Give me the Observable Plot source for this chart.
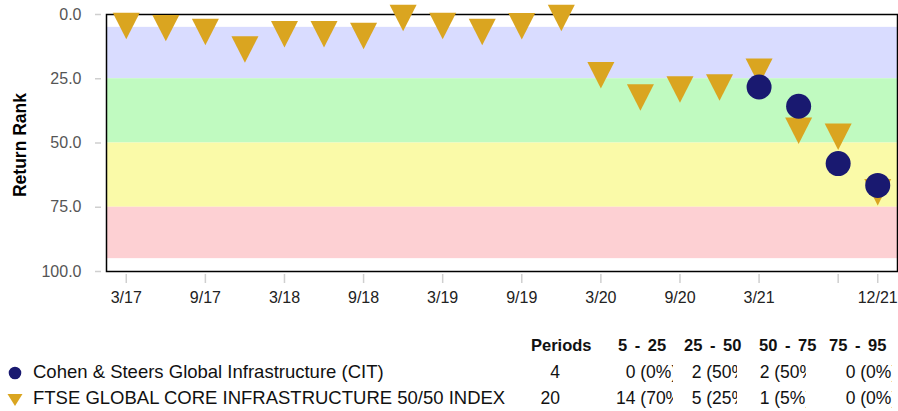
<!DOCTYPE html>
<html><head><meta charset="utf-8">
<script src="https://cdn.jsdelivr.net/npm/d3@7"></script>
<script src="https://cdn.jsdelivr.net/npm/@observablehq/plot@0.6"></script>
<style>
body{margin:0;background:#fff;font-family:"Liberation Sans",Arial,Helvetica,sans-serif;}
#wrap{position:relative;width:898px;height:411px;overflow:hidden;}
#chart{position:absolute;left:0;top:0;}
.ylab{position:absolute;left:20px;top:145px;transform:translate(-50%,-50%) rotate(-90deg);font-weight:bold;font-size:17.5px;white-space:nowrap;color:#000;}
.t{position:absolute;white-space:nowrap;line-height:1;color:#111;}
.hd{font-weight:bold;font-size:16.5px;}
.hd.num{word-spacing:3px;}
.v{font-size:17.5px;}
.lg{font-size:18.5px;}
.clip{position:absolute;overflow:hidden;height:22px;}
.clip span{position:absolute;top:0;white-space:nowrap;line-height:1;font-size:17.5px;color:#111;}
</style></head>
<body><div id="wrap"><div id="chart"></div></div>
<script>
// ---- data ----
const quarters = ["3/17","6/17","9/17","12/17","3/18","6/18","9/18","12/18","3/19","6/19","9/19","12/19","3/20","6/20","9/20","12/20","3/21","6/21","9/21","12/21"];
const indexRank = [4.5,5.3,6.8,13.6,7.7,7.7,8.4,1.4,4.5,6.8,4.6,1.4,23.6,32.3,29.2,28.4,22.3,45.2,47.6,69.2];
const citQuarters = ["3/21","6/21","9/21","12/21"];
const citRank = [28.2,35.7,58.0,66.5];
const bandLow = [5,25,50,75];
const bandHigh = [25,50,75,95];
const bandColors = ["#d9dcff","#c0fac0","#fafaa8","#fdd0d3"];
const yTicks = [0,25,50,75,100];
const xTickQuarters = ["3/17","9/17","3/18","9/18","3/19","9/19","3/20","9/20","3/21","9/21","12/21"];
const xTickLabels = ["3/17","9/17","3/18","9/18","3/19","9/19","3/20","9/20","3/21","","12/21"];
const seriesNames = ["Cohen & Steers Global Infrastructure (CIT)","FTSE GLOBAL CORE INFRASTRUCTURE 50/50 INDEX"];
const seriesColors = ["#191970","#DAA520"];
const tableHeaders = ["Periods","5 - 25","25 - 50","50 - 75","75 - 95"];
const periods = [4, 20];
const tableCounts = [[0,2,2,0],[14,5,1,0]];
const tablePcts = [[0,50,50,0],[70,25,5,0]];

// ---- chart ----
const bands = bandLow.map((lo,i)=>({lo, hi: bandHigh[i], color: bandColors[i]}));
const idxRows = quarters.map((q,i)=>({q, rank: indexRank[i]}));
const citRows = citQuarters.map((q,i)=>({q, rank: citRank[i]}));
const triangleDown = {draw(ctx, size){const r=Math.sqrt(size/Math.PI);const h=r*0.98;ctx.moveTo(-r,-h);ctx.lineTo(r,-h);ctx.lineTo(0,h);ctx.closePath();}};

const chart = Plot.plot({
  width: 898, height: 320,
  marginLeft: 106, marginRight: 1, marginTop: 14, marginBottom: 49,
  style: {fontFamily: '"Liberation Sans", Arial, sans-serif', background: "transparent"},
  x: {type: "point", domain: quarters, padding: 0.5, round: false, label: null},
  y: {domain: [100, 0], label: null},
  marks: [
    Plot.rect(bands, {y1: "lo", y2: "hi", fill: d => d.color}),
    Plot.axisY({ticks: yTicks, tickFormat: () => "", tickSize: 6, dx: -5, color: "#cfcfcf", strokeWidth: 1.5, label: null}),
    Plot.axisY({ticks: yTicks, tickFormat: d3.format(".1f"), tickSize: 0, tickPadding: 25, color: "#555", fontSize: 16, label: null}),
    Plot.axisX({ticks: xTickQuarters, tickFormat: () => "", tickSize: 9, dy: 3, color: "#cfcfcf", strokeWidth: 1.5, label: null}),
    Plot.axisX({ticks: xTickQuarters, tickFormat: d => xTickLabels[xTickQuarters.indexOf(d)], tickSize: 0, tickPadding: 20, color: "#222", fontSize: 16, label: null}),
    Plot.frame({stroke: "#000", strokeWidth: 1.5}),
    Plot.dot(idxRows, {x: "q", y: "rank", symbol: triangleDown, r: 13.5, fill: seriesColors[1]}),
    Plot.dot(citRows, {x: "q", y: "rank", r: 12.5, fill: seriesColors[0]})
  ]
});
const wrap = document.getElementById("wrap");
document.getElementById("chart").appendChild(chart);

const yl = document.createElement("div"); yl.className = "ylab"; yl.textContent = "Return Rank"; wrap.appendChild(yl);

// ---- legend table ----
function addText(txt, cls, left, top, align){
  const d = document.createElement("div"); d.className = "t " + cls; d.textContent = txt;
  d.style.top = top + "px";
  if (align === "right") { d.style.right = (898 - left) + "px"; } else { d.style.left = left + "px"; }
  wrap.appendChild(d); return d;
}
const headerLeft = [531, 618, 684, 759, 829];
tableHeaders.forEach((h,i)=>addText(h, i ? "hd num" : "hd", headerLeft[i], 337));
const rowTop = [364, 390];
const cellLeft = [616, 682, 750, 836];
const cellRight = [673, 737, 806, 891.5];
const digitW = 9.7;
seriesNames.forEach((name, r)=>{
  addText(name, "lg", 33, rowTop[r]-1);
  addText(String(periods[r]), "v", 560, rowTop[r], "right");
  tableCounts[r].forEach((c, j)=>{
    const box = document.createElement("div"); box.className = "clip";
    box.style.left = cellLeft[j] + "px"; box.style.width = (cellRight[j]-cellLeft[j]) + "px";
    box.style.top = rowTop[r] + "px";
    const s = document.createElement("span"); s.textContent = c + " (" + tablePcts[r][j] + "%)";
    s.style.left = (c < 10 ? digitW : 0) + "px";
    box.appendChild(s); wrap.appendChild(box);
  });
});
// legend swatches
const ns = "http://www.w3.org/2000/svg";
function swatch(top, shape, color){
  const s = document.createElementNS(ns, "svg"); s.setAttribute("width", 20); s.setAttribute("height", 20);
  s.style.position = "absolute"; s.style.left = "5px"; s.style.top = top + "px";
  const p = document.createElementNS(ns, "path");
  if (shape === "circle") p.setAttribute("d", "M16.3,10A6.3,6.3 0 1,1 3.7,10A6.3,6.3 0 1,1 16.3,10Z");
  else p.setAttribute("d", "M2.5,4L17.5,4L10,16Z");
  p.setAttribute("fill", color); s.appendChild(p); wrap.appendChild(s);
}
swatch(362.5, "circle", seriesColors[0]);
swatch(390, "triangle", seriesColors[1]);
</script>
</body></html>
